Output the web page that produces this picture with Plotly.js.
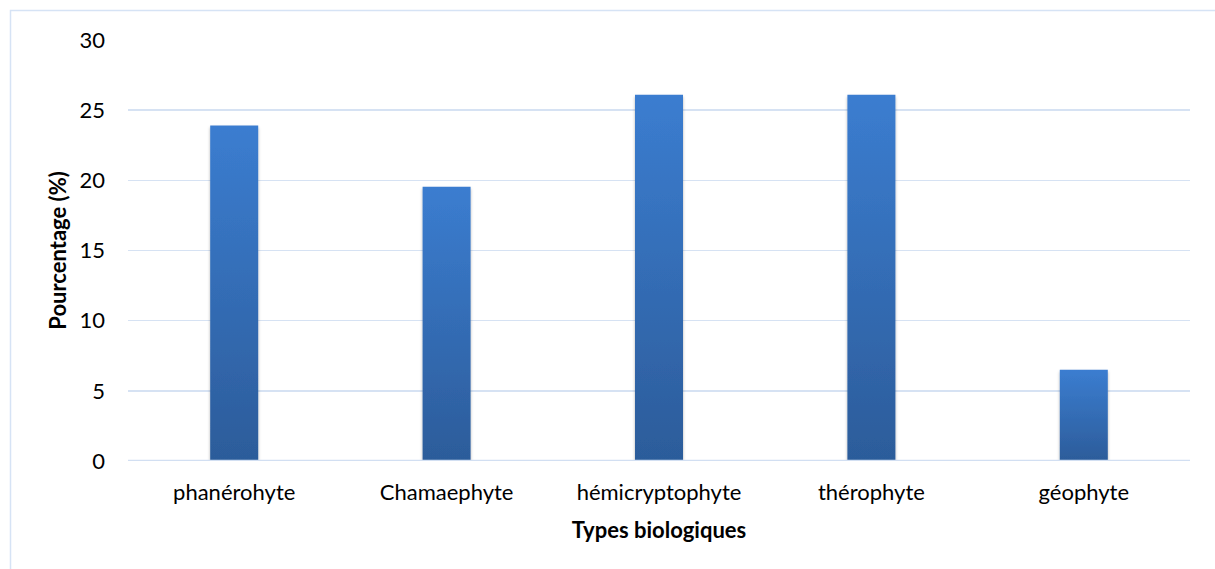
<!DOCTYPE html>
<html>
<head>
<meta charset="utf-8">
<script src="https://cdn.plot.ly/plotly-3.0.1.min.js"></script>
<style>
html,body{margin:0;padding:0;background:#fff;}
#chart{width:1215px;height:569px;}
</style>
</head>
<body>
<div id="chart"></div>
<script>
const categories = ["phanérohyte", "Chamaephyte", "hémicryptophyte", "thérophyte", "géophyte"];
const values = [23.9, 19.55, 26.1, 26.1, 6.5];
const yTicks = [0, 5, 10, 15, 20, 25, 30];
const xTitle = "Types biologiques";
const yTitle = "Pourcentage (%)";

const W = 1215, H = 569;
const m = {l: 128, r: 25, t: 40, b: 108};
const pw = W - m.l - m.r, ph = H - m.t - m.b;
const px = v => (v - m.l) / pw;
const py = v => 1 - (v - m.t) / ph;

const font = "Lato, 'Open Sans', sans-serif";
const fs = 22;
const trace = {
  type: "bar",
  x: categories,
  y: values,
  marker: {color: "#3470b8", line: {width: 0}},
  width: 0.226,
  hoverinfo: "x+y"
};

const layout = {
  width: W, height: H,
  margin: m,
  paper_bgcolor: "#ffffff",
  plot_bgcolor: "#ffffff",
  font: {family: font, size: fs, color: "#000"},
  showlegend: false,
  xaxis: {
    type: "category",
    showgrid: false,
    showline: false,
    zeroline: false,
    ticks: "",
    tickfont: {family: font, size: fs, color: "#000"},
    ticklabelstandoff: 16,
    title: {text: xTitle, font: {family: font, size: fs, color: "#000", weight: "bold"}, standoff: 18}
  },
  yaxis: {
    range: [0, 30],
    tickvals: yTicks,
    ticktext: yTicks.map(String),
    showgrid: true,
    gridcolor: "#d6e2f3",
    gridwidth: 1.5,
    zeroline: false,
    showline: false,
    ticks: "",
    tickfont: {family: font, size: fs, color: "#000"},
    ticklabelstandoff: 22,
    title: {text: yTitle, font: {family: font, size: fs, color: "#000", weight: "bold"}, standoff: 6}
  },
  shapes: [
    {type: "line", xref: "paper", yref: "y", x0: 0, x1: 1, y0: 0, y1: 0,
     line: {color: "#d2dff2", width: 2.5}, layer: "above"},
    {type: "rect", xref: "paper", yref: "paper",
     x0: px(10.5), x1: px(1230), y0: py(590), y1: py(10.5),
     line: {color: "#d6e3f5", width: 1.5}, fillcolor: "rgba(0,0,0,0)"}
  ]
};

function applyGradient() {
  const svg = document.querySelector("#chart .main-svg");
  if (!svg) return;
  const ns = "http://www.w3.org/2000/svg";
  let defs = svg.querySelector("defs");
  if (!defs) { defs = document.createElementNS(ns, "defs"); svg.insertBefore(defs, svg.firstChild); }
  if (!document.getElementById("barGrad")) {
    const g = document.createElementNS(ns, "linearGradient");
    g.setAttribute("id", "barGrad");
    g.setAttribute("x1", "0"); g.setAttribute("y1", "0");
    g.setAttribute("x2", "0"); g.setAttribute("y2", "1");
    [["0%", "#3b7dd0"], ["100%", "#2c5c9a"]].forEach(([o, c]) => {
      const s = document.createElementNS(ns, "stop");
      s.setAttribute("offset", o); s.setAttribute("stop-color", c);
      g.appendChild(s);
    });
    defs.appendChild(g);
    const f = document.createElementNS(ns, "filter");
    f.setAttribute("id", "barShadow");
    f.setAttribute("x", "-20%"); f.setAttribute("y", "-5%");
    f.setAttribute("width", "140%"); f.setAttribute("height", "115%");
    const ds = document.createElementNS(ns, "feDropShadow");
    ds.setAttribute("dx", "0"); ds.setAttribute("dy", "2");
    ds.setAttribute("stdDeviation", "1.8");
    ds.setAttribute("flood-color", "#000"); ds.setAttribute("flood-opacity", "0.3");
    f.appendChild(ds);
    defs.appendChild(f);
  }
  document.querySelectorAll("#chart .bars .point path").forEach(p => {
    p.style.fill = "url(#barGrad)";
    p.style.filter = "url(#barShadow)";
  });
}

Plotly.newPlot("chart", [trace], layout, {displayModeBar: false, staticPlot: true}).then(gd => {
  applyGradient();
  gd.on("plotly_afterplot", applyGradient);
});
</script>
</body>
</html>
